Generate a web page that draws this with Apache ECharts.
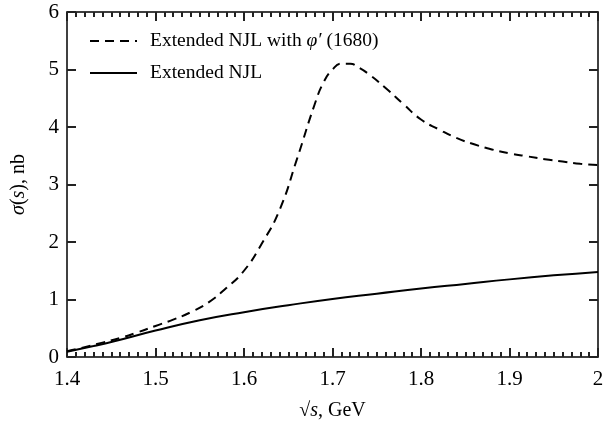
<!DOCTYPE html>
<html><head><meta charset="utf-8">
<script src="https://cdn.jsdelivr.net/npm/echarts@6/dist/echarts.min.js"></script>
<style>html,body{margin:0;padding:0;background:#fff}#c{width:607px;height:433px}</style>
</head><body><div id="c"></div>
<script>
var xSolid = [1.40,1.43,1.45,1.50,1.55,1.60,1.65,1.70,1.75,1.80,1.85,1.90,1.95,2.00];
var ySolid = [0.09,0.19,0.26,0.46,0.64,0.78,0.90,1.01,1.10,1.19,1.27,1.35,1.42,1.48];
var xDashed = [1.40,1.42,1.44,1.46,1.48,1.50,1.52,1.54,1.56,1.58,1.60,1.62,1.64,1.66,1.68,1.69,1.70,1.71,1.72,1.73,1.74,1.76,1.78,1.80,1.82,1.84,1.86,1.88,1.90,1.92,1.94,1.96,1.98,2.00];
var yDashed = [0.10,0.17,0.25,0.33,0.43,0.54,0.65,0.78,0.95,1.20,1.50,1.97,2.55,3.45,4.40,4.78,5.00,5.10,5.10,5.03,4.93,4.68,4.40,4.13,3.96,3.81,3.70,3.61,3.54,3.49,3.44,3.40,3.36,3.34];
var xTicks = ['1.4','1.5','1.6','1.7','1.8','1.9','2'];
var yTicks = ['0','1','2','3','4','5','6'];
var nameDashed = 'Extended NJL with φ′ (1680)';
var nameSolid = 'Extended NJL';

function pairs(xs, ys){ return xs.map(function(x,i){return [x, ys[i]];}); }
var FONT = 'Liberation Serif';
var TC = '#222';
function line(){ return {show:true, onZero:false, lineStyle:{color:'#000', width:1.5}}; }
function tick(){ return {show:true, inside:true, length:9, lineStyle:{color:TC, width:2}}; }
function minor(){ return {show:true, splitNumber:10, length:5, lineStyle:{color:TC, width:2}}; }
var rich = {n:{fontFamily:FONT,fontSize:20,color:'#000'}, i:{fontFamily:FONT,fontSize:20,fontStyle:'italic',color:'#000'}};
var lrich = {p:{fontFamily:FONT,fontSize:19.5,color:'#000',padding:[0,0,0,8]}, n:{fontFamily:FONT,fontSize:19.5,color:'#000'}, i:{fontFamily:FONT,fontSize:19.5,fontStyle:'italic',color:'#000'}};

var chart = echarts.init(document.getElementById('c'));
chart.setOption({
  animation:false,
  grid:{left:67, right:9, top:12, bottom:76},
  legend:{
    left:84, top:26, orient:'vertical', itemWidth:47, itemHeight:14, itemGap:12,
    itemStyle:{opacity:0},
    textStyle:{fontFamily:FONT, fontSize:19.5, color:'#000', rich:lrich},
    formatter:function(n){ if(n===nameDashed) return '{p|Extended NJL with }{i|φ′}{n| (1680)}'; return '{p|'+n+'}'; },
    data:[nameDashed, nameSolid]
  },
  xAxis:[{
    type:'value', min:1.4, max:2.0, interval:0.1, position:'bottom',
    axisLine:line(), axisTick:tick(), minorTick:minor(),
    splitLine:{show:false},
    axisLabel:{margin:12, fontFamily:FONT, fontSize:21, color:'#000',
      formatter:function(v){ var i=Math.round((v-1.4)*10); return xTicks[i]; }},
    name:'{n|√}{i|s}{n|, GeV}', nameLocation:'middle', nameGap:44,
    nameTextStyle:{fontFamily:FONT, fontSize:20, color:'#000', rich:rich}
  },{
    type:'value', min:1.4, max:2.0, interval:0.1, position:'top',
    axisLine:line(), axisTick:tick(), minorTick:minor(),
    splitLine:{show:false}, axisLabel:{show:false}
  }],
  yAxis:[{
    type:'value', min:0, max:6, interval:1, position:'left',
    axisLine:line(), axisTick:tick(),
    splitLine:{show:false},
    axisLabel:{margin:8, fontFamily:FONT, fontSize:21, color:'#000',
      formatter:function(v){ return yTicks[Math.round(v)]; }},
    name:'{i|σ}{n|(}{i|s}{n|), nb}', nameLocation:'middle', nameGap:38, nameRotate:90,
    nameTextStyle:{fontFamily:FONT, fontSize:20, color:'#000', rich:rich}
  },{
    type:'value', min:0, max:6, interval:1, position:'right',
    axisLine:line(), axisTick:tick(),
    splitLine:{show:false}, axisLabel:{show:false}
  }],
  series:[{
    name:nameDashed, type:'line', data:pairs(xDashed,yDashed), smooth:true,
    showSymbol:false, symbol:'none',
    lineStyle:{color:'#000', width:2, type:[9,6]}, itemStyle:{color:'#000'}
  },{
    name:nameSolid, type:'line', data:pairs(xSolid,ySolid), smooth:true,
    showSymbol:false, symbol:'none',
    lineStyle:{color:'#000', width:2, type:'solid'}, itemStyle:{color:'#000'}
  }]
});
</script></body></html>
